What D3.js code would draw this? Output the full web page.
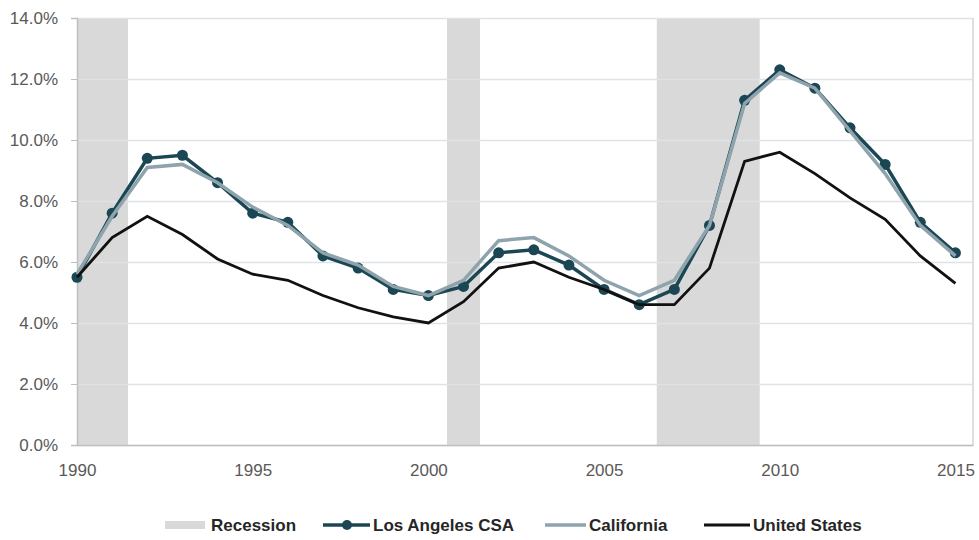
<!DOCTYPE html>
<html>
<head>
<meta charset="utf-8">
<script src="https://cdn.jsdelivr.net/npm/d3@7"></script>
<style>
  body { margin: 0; background: #fff; }
  svg text { font-family: "Liberation Sans", Arial, sans-serif; }
</style>
</head>
<body>
<svg id="chart" width="979" height="540"></svg>
<script>
// unemployment rate, annual
const years = d3.range(1990, 2016);
const laCsa = [5.5, 7.6, 9.4, 9.5, 8.6, 7.6, 7.3, 6.2, 5.8, 5.1, 4.9, 5.2, 6.3, 6.4, 5.9, 5.1, 4.6, 5.1, 7.2, 11.3, 12.3, 11.7, 10.4, 9.2, 7.3, 6.3];
const california = [5.6, 7.5, 9.1, 9.2, 8.6, 7.8, 7.2, 6.3, 5.9, 5.2, 4.9, 5.4, 6.7, 6.8, 6.2, 5.4, 4.9, 5.4, 7.2, 11.2, 12.2, 11.7, 10.3, 8.9, 7.2, 6.2];
const unitedStates = [5.5, 6.8, 7.5, 6.9, 6.1, 5.6, 5.4, 4.9, 4.5, 4.2, 4.0, 4.7, 5.8, 6.0, 5.5, 5.1, 4.6, 4.6, 5.8, 9.3, 9.6, 8.9, 8.1, 7.4, 6.2, 5.3];
const recessionStart = [1990, 2000.53, 2006.5];
const recessionEnd = [1991.45, 2001.47, 2009.43];
const yTicks = [0, 2, 4, 6, 8, 10, 12, 14];
const xTicks = [1990, 1995, 2000, 2005, 2010, 2015];

const svg = d3.select('#chart');

const x = d3.scaleLinear().domain([1990, 2015.5]).range([77, 973]);
const y = d3.scaleLinear().domain([0, 14]).range([445, 18]);

// recession bands
svg.append('g').selectAll('rect')
    .data(recessionStart)
    .enter().append('rect')
    .attr('x', (d) => x(d))
    .attr('y', y(14))
    .attr('width', (d, i) => x(recessionEnd[i]) - x(d))
    .attr('height', y(0) - y(14))
    .attr('fill', '#d9d9d9');

// gridlines
svg.append('g')
    .attr('transform', `translate(${x(1990)},0)`)
    .call(d3.axisLeft(y).tickValues(yTicks).tickSize(-(x(2015.5) - x(1990))).tickFormat(''))
    .call(g => g.select('.domain').remove())
    .call(g => g.selectAll('line').attr('stroke', '#dde3e6').attr('stroke-width', 1.5));

// y axis
const yAxis = svg.append('g')
    .attr('transform', `translate(${x(1990)},0)`)
    .call(d3.axisLeft(y).tickValues(yTicks).tickSize(6).tickPadding(13).tickFormat(d => d.toFixed(1) + '%'));
yAxis.select('.domain').attr('stroke', '#bfbfbf').attr('stroke-width', 1.5);
yAxis.selectAll('line').attr('stroke', '#bfbfbf');
yAxis.selectAll('text').attr('fill', '#595959').style('font-size', '17px');

// x axis
const xAxis = svg.append('g')
    .attr('transform', `translate(0,${y(0)})`)
    .call(d3.axisBottom(x).tickValues(xTicks).tickSize(0).tickPadding(19).tickFormat(d3.format('d')));
xAxis.select('.domain').attr('stroke', '#bfbfbf').attr('stroke-width', 1.5);
xAxis.selectAll('text').attr('fill', '#595959').style('font-size', '17px');

// right border
svg.append('line')
    .attr('x1', x(2015.5)).attr('x2', x(2015.5))
    .attr('y1', y(14)).attr('y2', y(0))
    .attr('stroke', '#d0d6d9').attr('stroke-width', 1.5);

const line = d3.line()
    .x((d, i) => x(years[i]))
    .y(d => y(d));

const laColor = '#1b4653';
const caColor = '#8ea3ac';
const usColor = '#111111';

svg.append('path')
    .datum(laCsa)
    .attr('d', line)
    .attr('fill', 'none')
    .attr('stroke', laColor)
    .attr('stroke-width', 3.5);

svg.append('g').selectAll('circle')
    .data(laCsa)
    .enter().append('circle')
    .attr('cx', (d, i) => x(years[i]))
    .attr('cy', d => y(d))
    .attr('r', 5.5)
    .attr('fill', laColor);

svg.append('path')
    .datum(california)
    .attr('d', line)
    .attr('fill', 'none')
    .attr('stroke', caColor)
    .attr('stroke-width', 3.5);

svg.append('path')
    .datum(unitedStates)
    .attr('d', line)
    .attr('fill', 'none')
    .attr('stroke', usColor)
    .attr('stroke-width', 2.8);

// legend
const legend = svg.append('g').attr('transform', 'translate(0,525)');
const legendText = (x0, label) => legend.append('text')
    .attr('x', x0).attr('y', 0).attr('dy', '0.35em')
    .attr('fill', '#262626')
    .style('font-size', '17px').style('font-weight', 'bold')
    .text(label);

legend.append('rect').attr('x', 165).attr('y', -4).attr('width', 40).attr('height', 8).attr('fill', '#d9d9d9');
legendText(211, 'Recession');

legend.append('line').attr('x1', 323).attr('x2', 370).attr('stroke', laColor).attr('stroke-width', 3.5);
legend.append('circle').attr('cx', 347).attr('r', 5).attr('fill', laColor);
legendText(373, 'Los Angeles CSA');

legend.append('line').attr('x1', 545).attr('x2', 586).attr('stroke', caColor).attr('stroke-width', 3.5);
legendText(589, 'California');

legend.append('line').attr('x1', 704).attr('x2', 750).attr('stroke', usColor).attr('stroke-width', 3);
legendText(753, 'United States');
</script>
</body>
</html>
